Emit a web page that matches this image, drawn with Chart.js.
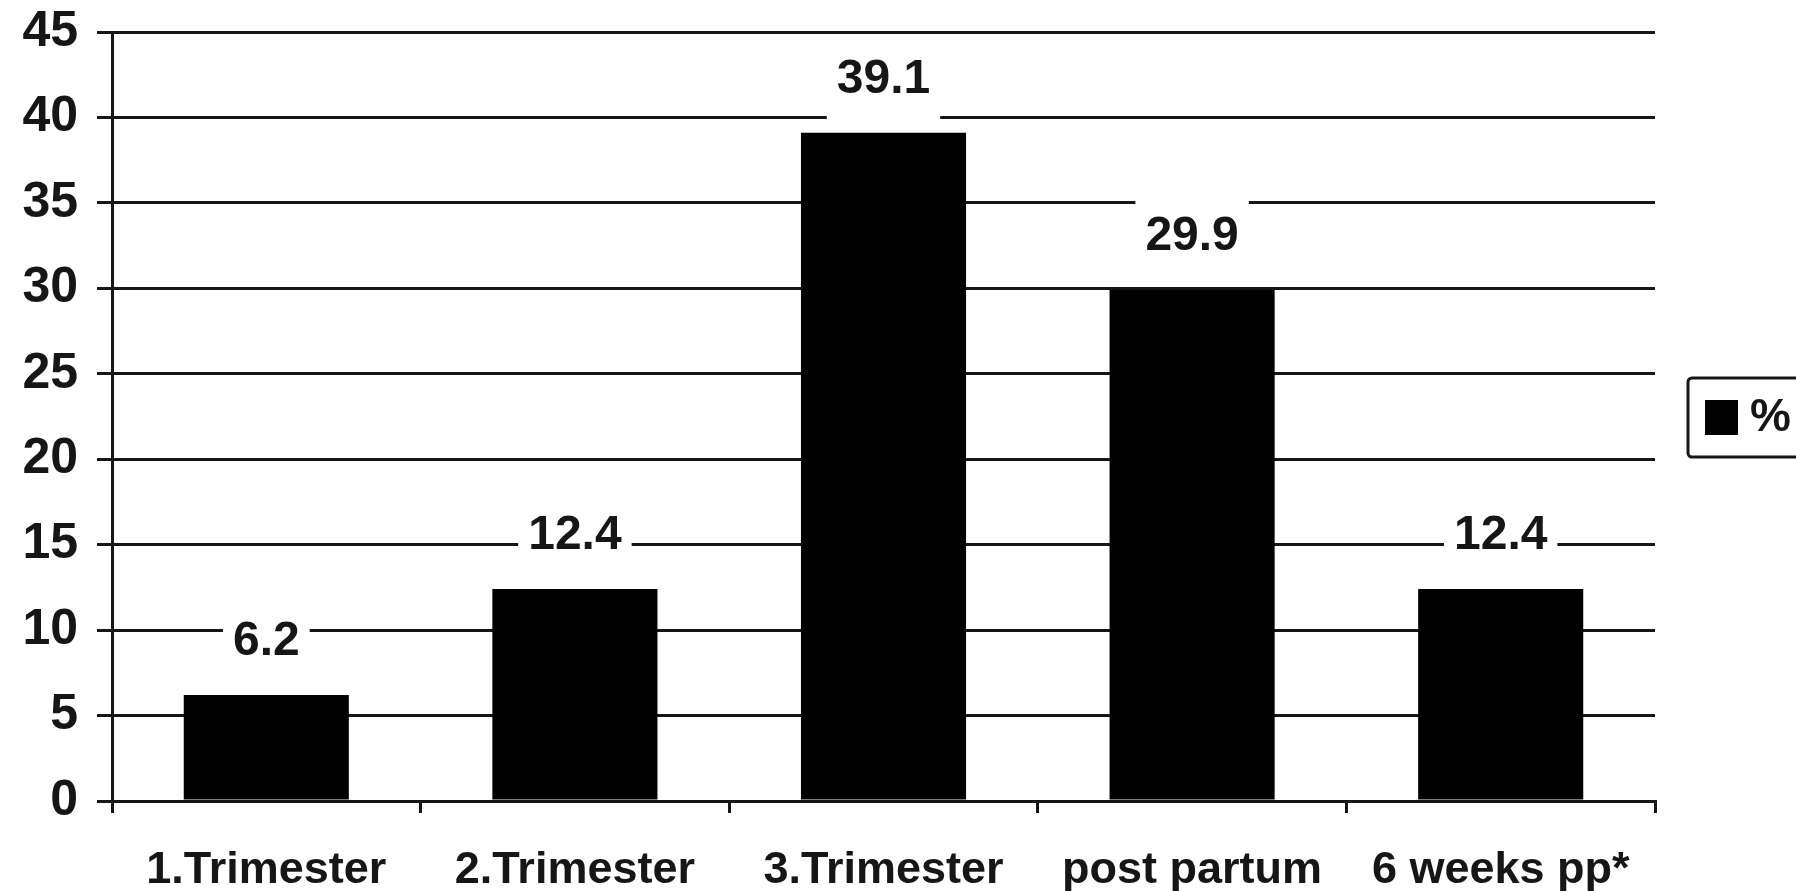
<!DOCTYPE html>
<html>
<head>
<meta charset="utf-8">
<script src="https://cdn.jsdelivr.net/npm/chart.js@4.4.1/dist/chart.umd.min.js"></script>
<style>
  html, body { margin: 0; padding: 0; background: #ffffff; }
  canvas { display: block; }
</style>
</head>
<body>
<canvas id="chart" width="1796" height="891"></canvas>
<script>
// Categories along the x axis
const categories = ['1.Trimester', '2.Trimester', '3.Trimester', 'post partum', '6 weeks pp*'];
// Share per period, in percent
const percentValues = [6.2, 12.4, 39.1, 29.9, 12.4];
// Series name shown in the legend
const seriesName = '%';
// Value axis range and step
const yMin = 0;
const yMax = 45;
const yStep = 5;

const INK = '#161616';
const FONT = '"Liberation Sans", Arial, Helvetica, sans-serif';
const VALUE_FONT = 'bold 48px ' + FONT;

// Value labels sitting above each bar on a white plate that breaks the grid lines
const valueLabels = {
  id: 'valueLabels',
  beforeDatasetsDraw(chart) {
    const ctx = chart.ctx;
    const meta = chart.getDatasetMeta(0);
    ctx.save();
    ctx.font = VALUE_FONT;
    meta.data.forEach((bar, i) => {
      const text = String(percentValues[i]);
      const w = ctx.measureText(text).width;
      const baseline = bar.y - 40;
      ctx.fillStyle = '#ffffff';
      ctx.fillRect(bar.x - w / 2 - 10, baseline - 35 - 20, w + 20, 35 + 20 + 30);
    });
    ctx.restore();
  },
  afterDatasetsDraw(chart) {
    const ctx = chart.ctx;
    const meta = chart.getDatasetMeta(0);
    ctx.save();
    ctx.font = VALUE_FONT;
    ctx.fillStyle = INK;
    ctx.textAlign = 'center';
    ctx.textBaseline = 'alphabetic';
    meta.data.forEach((bar, i) => {
      ctx.fillText(String(percentValues[i]), bar.x, bar.y - 40);
    });
    ctx.restore();
  }
};

// Boxed legend at the right edge
const boxedLegend = {
  id: 'boxedLegend',
  afterDraw(chart) {
    const ctx = chart.ctx;
    const ds = chart.data.datasets[0];
    const left = 1688, top = 378, bottom = 457;
    ctx.save();
    ctx.strokeStyle = INK;
    ctx.lineWidth = 3;
    ctx.beginPath();
    ctx.roundRect(left, top, 160, bottom - top, 4);
    ctx.stroke();
    ctx.fillStyle = ds.backgroundColor;
    ctx.fillRect(left + 17, top + 22, 33, 35);
    ctx.fillStyle = INK;
    ctx.font = 'bold 46px ' + FONT;
    ctx.textAlign = 'left';
    ctx.textBaseline = 'middle';
    ctx.fillText(ds.label, left + 62, (top + bottom) / 2 + 1);
    ctx.restore();
  }
};

new Chart(document.getElementById('chart'), {
  type: 'bar',
  data: {
    labels: categories,
    datasets: [{
      label: seriesName,
      data: percentValues,
      backgroundColor: '#000000',
      borderWidth: 0,
      categoryPercentage: 1,
      barPercentage: 0.535
    }]
  },
  options: {
    responsive: false,
    animation: false,
    devicePixelRatio: 1,
    layout: { padding: { top: 32, right: 141, left: 0, bottom: 0 } },
    plugins: {
      legend: { display: false },
      tooltip: { enabled: false },
      title: { display: false }
    },
    scales: {
      x: {
        afterFit(scale) {
          scale.height = 90;
          scale.paddingLeft = 0;
          scale.paddingRight = 0;
        },
        grid: {
          offset: true,
          drawOnChartArea: false,
          drawTicks: true,
          tickLength: 12,
          color: INK,
          lineWidth: 3
        },
        border: { display: true, color: INK, width: 3 },
        ticks: {
          color: INK,
          padding: 31,
          maxRotation: 0,
          autoSkip: false,
          font: { family: FONT, size: 45, weight: 'bold' }
        }
      },
      y: {
        min: yMin,
        max: yMax,
        afterFit(scale) {
          scale.width = 112;
          scale.paddingTop = 0;
          scale.paddingBottom = 0;
        },
        grid: {
          color: INK,
          lineWidth: 3,
          drawTicks: true,
          tickLength: 15
        },
        border: { display: true, color: INK, width: 3 },
        ticks: {
          stepSize: yStep,
          color: INK,
          padding: 19,
          font: { family: FONT, size: 50, weight: 'bold' }
        }
      }
    }
  },
  plugins: [valueLabels, boxedLegend]
});
</script>
</body>
</html>
